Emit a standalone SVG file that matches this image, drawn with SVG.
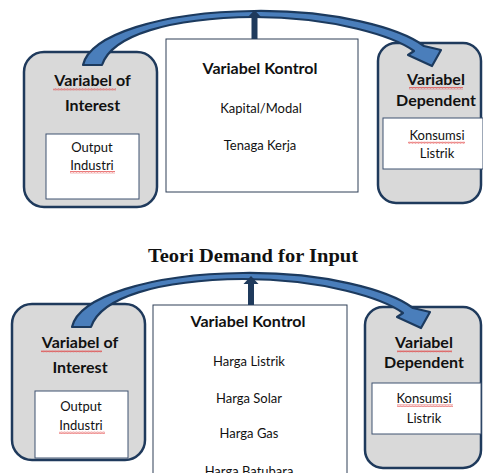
<svg xmlns="http://www.w3.org/2000/svg" xmlns:xlink="http://www.w3.org/1999/xlink" width="483" height="473" viewBox="0 0 483 473">
<defs>
<style>
.outer{fill:#d9d9d9;stroke:#1f3a5c;stroke-width:2.5}
.inner{fill:#ffffff;stroke:#3f5270;stroke-width:1}
.ctrl{fill:#ffffff;stroke:#2e3f57;stroke-width:1}
.hd{font-family:Lato,"Liberation Sans",sans-serif;font-weight:bold;font-size:16px;fill:#111;text-anchor:middle}
.tx{font-family:Lato,"Liberation Sans",sans-serif;font-size:13px;fill:#111;text-anchor:middle}
.title{font-family:"Liberation Serif","DejaVu Serif",serif;font-weight:bold;font-size:19.5px;fill:#111;text-anchor:middle}
.band{fill:#4a7ebb;stroke:#1c3a5e;stroke-width:2.2;stroke-linejoin:round}
.up{fill:#1f3a5c;stroke:none}
</style>
<pattern id="squig" width="3" height="2.4" patternUnits="userSpaceOnUse">
<path d="M0,1.9 L0.75,0.5 L1.5,1.9 L2.25,0.5 L3,1.9" fill="none" stroke="#e03030" stroke-width="0.6"/>
</pattern>
<path id="curve" class="band" d="M83,65 C90,35 160,12 254,11 C335,10 400,28 424,46 L441,50 L432,66 L408,55 L414,51 C395,37 335,17 254,17 C170,18 112,35 102,65 Z"/>
<path id="uparrow" class="up" d="M-3,0 L-3,-21 L-7.5,-21 L0,-29 L7.5,-21 L3,-21 L3,0 Z"/>
</defs>

<g id="top-interest">
<rect class="outer" x="24" y="52" width="133" height="155" rx="20"/>
<rect class="inner" x="46" y="134" width="93" height="65"/>
<text class="hd" x="92.5" y="86">Variabel of</text>
<text class="hd" x="92.5" y="111">Interest</text>
<text class="tx" x="92" y="152">Output</text>
<text class="tx" x="92" y="170">Industri</text>
<rect x="53" y="88" width="63" height="2.4" fill="url(#squig)"/>
<rect x="70" y="171" width="45" height="2.4" fill="url(#squig)"/>
</g>

<g id="top-control">
<rect class="ctrl" x="166" y="39" width="192" height="153"/>
<text class="hd" x="260" y="74">Variabel Kontrol</text>
<text class="tx" x="261" y="113">Kapital/Modal</text>
<text class="tx" x="260" y="150">Tenaga Kerja</text>
</g>

<g id="top-dependent">
<rect class="outer" x="378" y="43" width="103" height="160" rx="18"/>
<rect class="inner" x="383" y="118" width="100" height="51"/>
<text class="hd" x="436" y="85">Variabel</text>
<text class="hd" x="436" y="106">Dependent</text>
<text class="tx" x="437" y="140">Konsumsi</text>
<text class="tx" x="437" y="158">Listrik</text>
<rect x="409" y="87" width="54" height="2.4" fill="url(#squig)"/>
<rect x="408" y="141.5" width="57" height="2.4" fill="url(#squig)"/>
</g>

<g id="title">
<text class="title" x="253" y="262" textLength="210" lengthAdjust="spacingAndGlyphs">Teori Demand for Input</text>
</g>

<g id="bottom-interest">
<rect class="outer" x="12" y="304" width="133" height="156" rx="20"/>
<rect class="inner" x="35" y="391" width="93" height="67"/>
<text class="hd" x="80" y="348">Variabel of</text>
<text class="hd" x="80" y="373">Interest</text>
<text class="tx" x="81" y="411">Output</text>
<text class="tx" x="81" y="430">Industri</text>
<rect x="41" y="350" width="61" height="2.4" fill="url(#squig)"/>
<rect x="59" y="431.5" width="46" height="2.4" fill="url(#squig)"/>
</g>

<g id="bottom-control">
<rect class="ctrl" x="153" y="305" width="194" height="180"/>
<text class="hd" x="248" y="327">Variabel Kontrol</text>
<text class="tx" x="249" y="366">Harga Listrik</text>
<text class="tx" x="249" y="403">Harga Solar</text>
<text class="tx" x="249" y="438">Harga Gas</text>
<text class="tx" x="249" y="476">Harga Batubara</text>
</g>

<g id="bottom-dependent">
<rect class="outer" x="365" y="307" width="116" height="161" rx="18"/>
<rect class="inner" x="372" y="383" width="109" height="51"/>
<text class="hd" x="424" y="348">Variabel</text>
<text class="hd" x="424" y="368">Dependent</text>
<text class="tx" x="424" y="403">Konsumsi</text>
<text class="tx" x="424" y="423">Listrik</text>
<rect x="397" y="350" width="55" height="2.4" fill="url(#squig)"/>
<rect x="397" y="404.5" width="56" height="2.4" fill="url(#squig)"/>
</g>

<g id="connectors">
<use xlink:href="#curve"/>
<use xlink:href="#uparrow" transform="translate(254.5,39)"/>
<use xlink:href="#curve" transform="translate(-11,262)"/>
<use xlink:href="#uparrow" transform="translate(251,305)"/>
</g>
</svg>
